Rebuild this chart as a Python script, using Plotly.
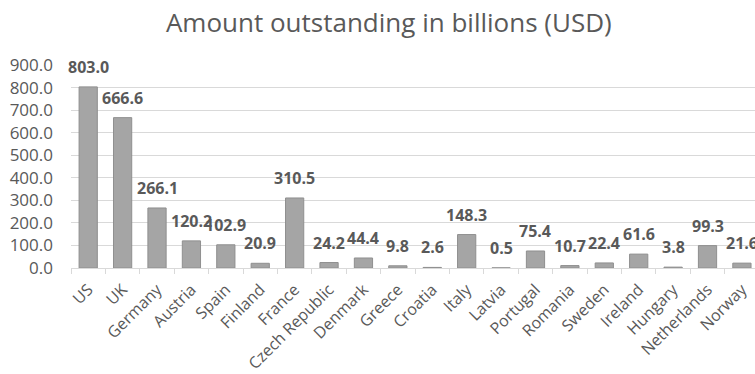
import plotly.graph_objects as go

countries = ["US", "UK", "Germany", "Austria", "Spain", "Finland", "France",
             "Czech Republic", "Denmark", "Greece", "Croatia", "Italy", "Latvia",
             "Portugal", "Romania", "Sweden", "Ireland", "Hungary", "Netherlands", "Norway"]
amounts = [803.0, 666.6, 266.1, 120.2, 102.9, 20.9, 310.5, 24.2, 44.4, 9.8,
           2.6, 148.3, 0.5, 75.4, 10.7, 22.4, 61.6, 3.8, 99.3, 21.6]
title_text = "Amount outstanding in billions (USD)"

FONT = "Open Sans"

fig = go.Figure(go.Bar(
    x=countries, y=amounts,
    marker=dict(color="#a5a5a5", line=dict(color="#8f8f8f", width=1)),
    width=0.53,
))

for c, v in zip(countries, amounts):
    fig.add_annotation(x=c, y=v, text=f"{v:.1f}", showarrow=False,
                       yanchor="middle", yshift=20,
                       font=dict(family=FONT, size=16, color="#595959", weight="bold"))

fig.update_layout(
    width=755, height=374,
    margin=dict(l=71, r=0, t=65, b=106),
    paper_bgcolor="white", plot_bgcolor="white",
    showlegend=False,
    title=dict(text=title_text, x=0.515, xanchor="center", y=0.94, yanchor="middle",
               font=dict(family=FONT, size=26, color="#595959")),
    bargap=0.47,
)
fig.update_xaxes(
    type="category", range=[-0.5, 19.38],
    tickson="boundaries", ticks="outside", ticklen=5, tickcolor="#d9d9d9",
    showline=True, linecolor="#d9d9d9", linewidth=1,
    tickangle=-45, ticklabelstandoff=5,
    tickfont=dict(family=FONT, size=16, color="#595959"),
    showgrid=False,
)
fig.update_yaxes(
    range=[0, 900], dtick=100, tickformat=".1f",
    showgrid=True, gridcolor="#d9d9d9", gridwidth=1,
    zeroline=False, showline=False, ticks="",
    ticklabelstandoff=17,
    tickfont=dict(family=FONT, size=17, color="#595959"),
)

fig.write_html("out.html")
